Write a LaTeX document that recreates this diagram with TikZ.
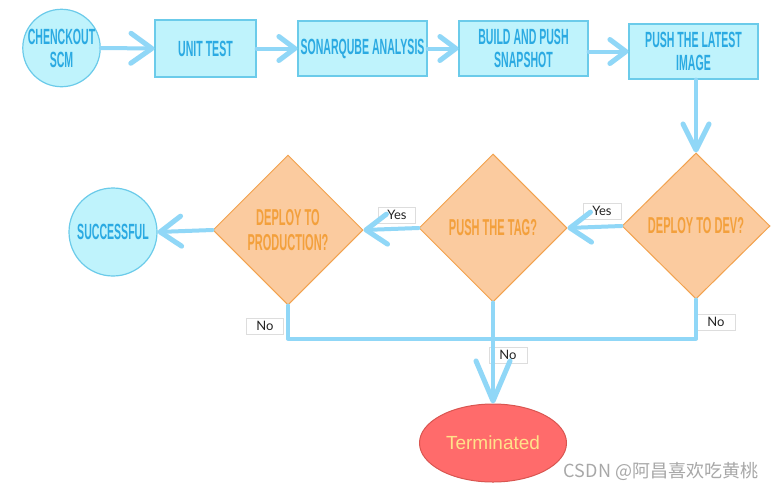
\documentclass[tikz,border=0pt]{standalone}
\usepackage{fontspec}
\usetikzlibrary{shapes.geometric,arrows.meta}
\newfontfamily\bebas[FakeStretch=0.48]{Liberation Sans}
\newfontfamily\latofont{Lato}
\newfontfamily\armfont{Liberation Sans}
\newfontfamily\cjkfont{Noto Sans CJK SC}
\definecolor{boxfill}{HTML}{BFF3FC}
\definecolor{boxline}{HTML}{6BCBEA}
\definecolor{boxtext}{HTML}{2BAAE2}
\definecolor{arrowc}{HTML}{90D7F7}
\definecolor{diafill}{HTML}{FBCB9F}
\definecolor{dialine}{HTML}{F2A24E}
\definecolor{diatext}{HTML}{F3A03C}
\definecolor{termfill}{HTML}{FF6B6B}
\definecolor{termline}{HTML}{D95550}
\definecolor{termtext}{HTML}{FFE28A}
\definecolor{labline}{HTML}{DDDDDD}
\definecolor{labtext}{HTML}{222222}
\definecolor{wmgray}{HTML}{A8A8A8}
\begin{document}
\begin{tikzpicture}[x=1pt,y=-1pt,
  boxst/.style={rectangle, draw=boxline, fill=boxfill, line width=1.2pt, inner sep=0pt,
    text=boxtext, font=\bebas\bfseries\fontsize{22}{23}\selectfont, align=center},
  circst/.style={boxst, circle},
  diast/.style={diamond, draw=dialine, fill=diafill, line width=1pt, inner sep=0pt,
    text=diatext, font=\bebas\bfseries\fontsize{23}{25}\selectfont, align=center,
    minimum width=148pt, minimum height=148pt},
  termst/.style={ellipse, draw=termline, fill=termfill, line width=1pt, inner sep=0pt,
    text=termtext, font=\armfont\fontsize{19}{19}\selectfont,
    minimum width=147pt, minimum height=78pt},
  labst/.style={rectangle, draw=labline, fill=white, line width=0.6pt, inner sep=0pt,
    text=labtext, font=\latofont\fontsize{13}{13}\selectfont,
    minimum width=37pt, minimum height=16pt},
  conn/.style={draw=arrowc, line width=4pt, line cap=round, line join=round},
  tipA/.style={-{Straight Barb[length=21pt,width=30pt,line width=5pt,round]}},
  tipB/.style={-{Straight Barb[length=16pt,width=24pt,line width=5pt,round]}},
  tipC/.style={-{Straight Barb[length=26pt,width=26pt,line width=5pt,round]}},
  tipD/.style={-{Straight Barb[length=40pt,width=34pt,line width=5pt,round]}}]
\useasboundingbox[fill=white] (0,0) rectangle (775,488);

% nodes
\node[circst, minimum size=77pt] (scm) at (61.5,48) {CHENCKOUT\\SCM};
\node[boxst, minimum width=101pt, minimum height=57pt] (unit) at (205.5,48.5) {UNIT TEST};
\node[boxst, minimum width=129pt, minimum height=55pt] (sonar) at (362.5,48.5) {SONARQUBE ANALYSIS};
\node[boxst, minimum width=129pt, minimum height=55pt] (build) at (523.5,48.5) {BUILD AND PUSH\\SNAPSHOT};
\node[boxst, minimum width=129pt, minimum height=55pt] (push) at (693.5,51.5) {PUSH THE LATEST\\IMAGE};

\node[diast, minimum height=146pt] (dev) at (696,226) {DEPLOY TO DEV?};
\node[diast] (tag) at (493,228) {PUSH THE TAG?};
\node[diast, minimum width=150pt, minimum height=150pt] (prod) at (288,230) {DEPLOY TO\\PRODUCTION?};
\node[circst, minimum size=88pt] (succ) at (113,232) {SUCCESSFUL};
\node[termst] (term) at (493,443) {Terminated};

% labels
\node[labst, minimum width=38pt] (y1) at (602,211) {Yes};
\node[labst] (y2) at (397,215) {Yes};
\node[labst] (n1) at (265,326) {No};
\node[labst, minimum width=38pt] (n2) at (716,322) {No};
\node[labst, minimum width=38pt] (n3) at (508,355) {No};

% connectors
\draw[conn, tipA] (scm.east) -- (unit.west);
\draw[conn, tipB] (unit.east) -- (sonar.west);
\draw[conn, tipB] (sonar.east) -- (build.west);
\draw[conn, tipB] (build.east |- push.west) -- (push.west);
\draw[conn, tipC] (push.south -| dev.north) -- (dev.north);
\draw[conn, tipA] (dev.west) -- (tag.east);
\draw[conn, tipA] (tag.west) -- (prod.east);
\draw[conn, tipA] (prod.west) -- (succ.east);
\draw[conn] (prod.south) -- ++(0,33) -| (dev.south);
\draw[conn, tipD] (tag.south) -- (term.north);

% watermark
\node[text=wmgray, font=\cjkfont\fontsize{18}{18}\selectfont] (wm) at (661,471) {CSDN @阿昌喜欢吃黄桃};
\end{tikzpicture}
\end{document}
